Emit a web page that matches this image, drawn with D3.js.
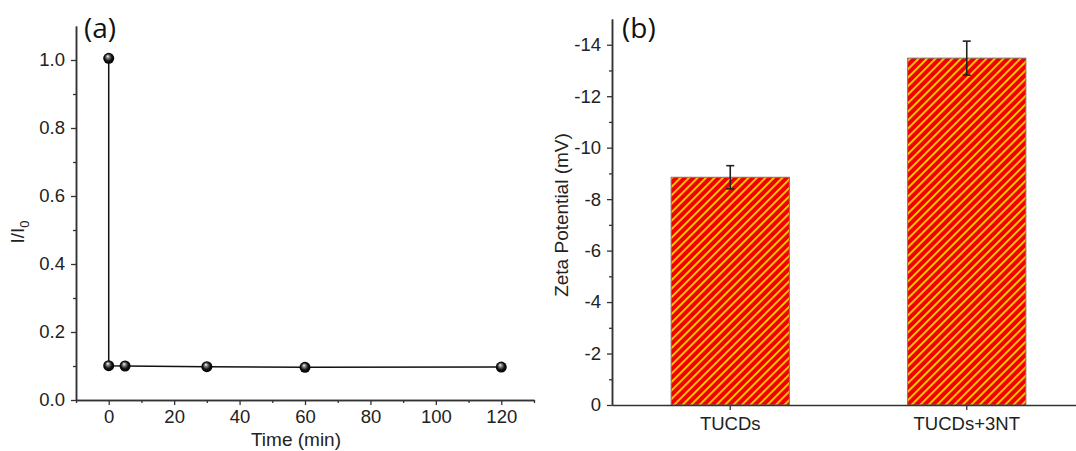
<html>
<head>
<meta charset="utf-8">
<script src="https://cdn.jsdelivr.net/npm/d3@7/dist/d3.min.js"></script>
<style>
  body { margin: 0; background: #fff; }
</style>
</head>
<body>
<script>
var W = 1076, H = 451;

// panel (a): intensity ratio vs time
var timeVals = [0, 0, 5, 30, 60, 120];
var ratioVals = [1.005, 0.101, 0.1, 0.098, 0.096, 0.097];
var timeTicks = [0, 20, 40, 60, 80, 100, 120];
var ratioTicks = [0.0, 0.2, 0.4, 0.6, 0.8, 1.0];

// panel (b): zeta potential bars
var samples = ["TUCDs", "TUCDs+3NT"];
var zetaVals = [8.85, 13.48];
var zetaErr = [0.45, 0.66];
var zetaTicks = [0, 2, 4, 6, 8, 10, 12, 14];

var FONT = "'Liberation Sans', Arial, sans-serif";

var svg = d3.select("body").append("svg")
  .attr("width", W).attr("height", H);

var defs = svg.append("defs");
var grad = defs.append("radialGradient").attr("id", "ball")
  .attr("cx", "50%").attr("cy", "50%").attr("r", "55%")
  .attr("fx", "40%").attr("fy", "30%");
grad.append("stop").attr("offset", "0%").attr("stop-color", "#fff");
grad.append("stop").attr("offset", "25%").attr("stop-color", "#888");
grad.append("stop").attr("offset", "60%").attr("stop-color", "#111");
grad.append("stop").attr("offset", "100%").attr("stop-color", "#000");

var pat = defs.append("pattern").attr("id", "hatch")
  .attr("patternUnits", "userSpaceOnUse")
  .attr("width", 6).attr("height", 6)
  .attr("patternTransform", "rotate(45)");
pat.append("rect").attr("width", 6).attr("height", 6).attr("fill", "#f20000");
pat.append("rect").attr("x", 0).attr("width", 1.8).attr("height", 6).attr("fill", "#ffd600");

// ---------- panel (a)
var xA = d3.scaleLinear().domain([-10, 130]).range([76, 534]);
var yA = d3.scaleLinear().domain([0, 1.1]).range([400, 26]);

svg.append("g").attr("transform", "translate(0,400)")
  .call(d3.axisBottom(xA).tickValues(timeTicks).tickSize(5).tickSizeOuter(0).tickPadding(5));
svg.append("g").attr("transform", "translate(0,400)")
  .call(d3.axisBottom(xA).tickValues(d3.range(-10, 131, 20)).tickSize(3).tickFormat("").tickSizeOuter(0));
svg.append("g").attr("transform", "translate(76,0)")
  .call(d3.axisLeft(yA).tickValues(ratioTicks).tickFormat(d3.format(".1f")).tickSize(5).tickSizeOuter(0).tickPadding(6));
svg.append("g").attr("transform", "translate(76,0)")
  .call(d3.axisLeft(yA).tickValues([0.1, 0.3, 0.5, 0.7, 0.9]).tickSize(3).tickFormat("").tickSizeOuter(0));

var ptsA = timeVals.map(function(t, i) { return [t, ratioVals[i]]; });
svg.append("path")
  .attr("d", d3.line().x(function(d) { return xA(d[0]); }).y(function(d) { return yA(d[1]); })(ptsA))
  .attr("fill", "none").attr("stroke", "#111").attr("stroke-width", 1.5);
svg.selectAll("circle.pa").data(ptsA).enter().append("circle")
  .attr("class", "pa")
  .attr("cx", function(d) { return xA(d[0]); })
  .attr("cy", function(d) { return yA(d[1]); })
  .attr("r", 5.5).attr("fill", "url(#ball)");

svg.append("text").attr("x", 296).attr("y", 446).attr("text-anchor", "middle")
  .attr("font-size", 19).attr("font-family", FONT).attr("fill", "#222").text("Time (min)");
var ylA = svg.append("text").attr("transform", "translate(24,232) rotate(-90)")
  .attr("text-anchor", "middle").attr("font-size", 19).attr("font-family", FONT).attr("fill", "#222");
ylA.append("tspan").text("I/I");
ylA.append("tspan").attr("font-size", 13).attr("dy", 5).text("0");
svg.append("text").attr("x", 84).attr("y", 38).attr("font-size", 28)
  .attr("font-family", "'Open Sans', sans-serif").attr("fill", "#111").text("(a)");

// ---------- panel (b)
var xB = d3.scaleBand().domain(samples).range([612, 1085]).paddingInner(0.5).paddingOuter(0.25);
var yB = d3.scaleLinear().domain([0, 15]).range([405, 19]);

svg.selectAll("rect.bar").data(samples).enter().append("rect")
  .attr("class", "bar")
  .attr("x", function(d) { return xB(d); })
  .attr("y", function(d, i) { return yB(zetaVals[i]); })
  .attr("width", xB.bandwidth())
  .attr("height", function(d, i) { return yB(0) - yB(zetaVals[i]); })
  .attr("fill", "url(#hatch)").attr("stroke", "#777").attr("stroke-width", 1);

var eb = svg.selectAll("g.err").data(samples).enter().append("g").attr("class", "err");
eb.append("line")
  .attr("x1", function(d) { return xB(d) + xB.bandwidth() / 2; })
  .attr("x2", function(d) { return xB(d) + xB.bandwidth() / 2; })
  .attr("y1", function(d, i) { return yB(zetaVals[i] + zetaErr[i]); })
  .attr("y2", function(d, i) { return yB(zetaVals[i] - zetaErr[i]); });
[1, -1].forEach(function(s) {
  eb.append("line")
    .attr("x1", function(d) { return xB(d) + xB.bandwidth() / 2 - 4; })
    .attr("x2", function(d) { return xB(d) + xB.bandwidth() / 2 + 4; })
    .attr("y1", function(d, i) { return yB(zetaVals[i] + s * zetaErr[i]); })
    .attr("y2", function(d, i) { return yB(zetaVals[i] + s * zetaErr[i]); });
});
eb.selectAll("line").attr("stroke", "#222").attr("stroke-width", 1.6);

svg.append("g").attr("transform", "translate(0,405)")
  .call(d3.axisBottom(xB).tickSize(5).tickSizeOuter(0).tickPadding(7));
svg.append("g").attr("transform", "translate(612,0)")
  .call(d3.axisLeft(yB).tickValues(zetaTicks)
    .tickFormat(function(d) { return d === 0 ? "0" : "-" + d; })
    .tickSize(5).tickSizeOuter(0).tickPadding(6));
svg.append("g").attr("transform", "translate(612,0)")
  .call(d3.axisLeft(yB).tickValues(d3.range(1, 15, 2)).tickSize(3).tickFormat("").tickSizeOuter(0));

svg.append("text").attr("transform", "translate(568,215) rotate(-90)")
  .attr("text-anchor", "middle").attr("font-size", 19).attr("font-family", FONT)
  .attr("fill", "#222").text("Zeta Potential (mV)");
svg.append("text").attr("x", 622).attr("y", 38).attr("font-size", 28)
  .attr("font-family", "'Open Sans', sans-serif").attr("fill", "#111").text("(b)");

svg.selectAll(".tick text").attr("font-size", 18.5).attr("font-family", FONT).attr("fill", "#222");
svg.selectAll(".domain").attr("stroke", "#333").attr("stroke-width", 1.5);
svg.selectAll(".tick line").attr("stroke", "#333").attr("stroke-width", 1.3);
</script>
</body>
</html>
